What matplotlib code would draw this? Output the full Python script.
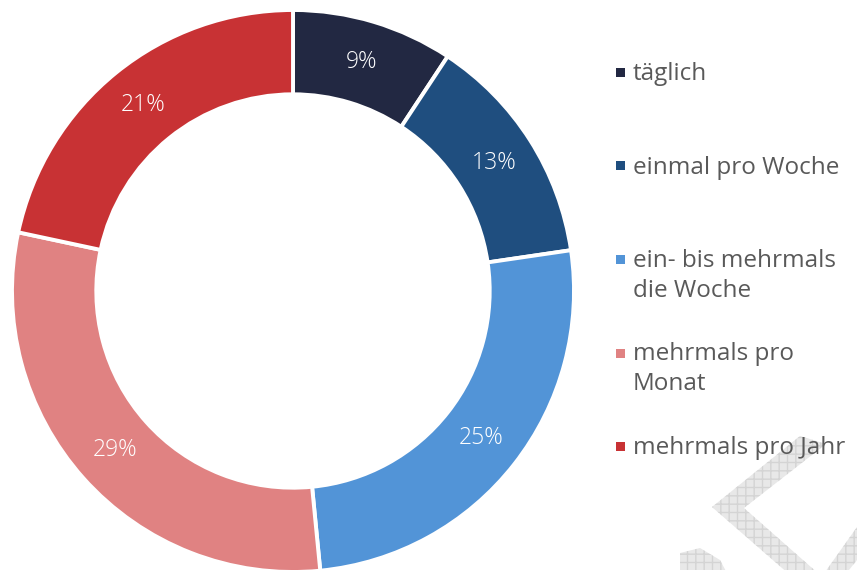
import numpy as np
import matplotlib.pyplot as plt
from matplotlib.patches import Polygon, Rectangle

CATEGORIES = ["täglich", "einmal pro Woche", "ein- bis mehrmals\ndie Woche",
              "mehrmals pro\nMonat", "mehrmals pro Jahr"]
SHARES = [9, 13, 25, 29, 21]
COLORS = ["#222842", "#1f4e7f", "#5294d7", "#e08282", "#c83234"]

W, H = 857, 570
plt.rcParams["font.family"] = ["Open Sans", "DejaVu Sans"]

fig = plt.figure(figsize=(W / 100, H / 100), dpi=100)
fig.patch.set_facecolor("white")

# watermark in the lower right corner
wm = fig.add_axes([0, 0, 1, 1], zorder=0)
wm.set_xlim(0, W)
wm.set_ylim(H, 0)
wm.axis("off")
for pts in [
    [(800, 436), (826, 444), (744, 508), (820, 575), (790, 575), (712, 507)],
    [(823, 575), (857, 527), (857, 560), (845, 575)],
    [(680, 553), (700, 548), (720, 560), (728, 575), (680, 575)],
]:
    wm.add_patch(Polygon(pts, closed=True, facecolor="#e8e8e8",
                         edgecolor="#d4d4d4", hatch="++", linewidth=0))

# donut
ax = fig.add_axes([12 / W, -2 / H, 562 / W, 562 / H], zorder=1)
ax.pie(SHARES, colors=COLORS, startangle=90, counterclock=False, radius=1,
       wedgeprops=dict(width=0.3, edgecolor="white", linewidth=2.8))
ax.set_xlim(-1, 1)
ax.set_ylim(-1, 1)
ax.set_aspect("equal")

total = sum(SHARES)
cum = 0
for v in SHARES:
    mid = 90 - (cum + v / 2) / total * 360
    cum += v
    r = 0.85
    ax.text(r * np.cos(np.radians(mid)), r * np.sin(np.radians(mid)), f"{v}%",
            ha="center", va="center", color="white", fontsize=16.5,
            fontweight="light")

# legend
for i, (lab, col) in enumerate(zip(CATEGORIES, COLORS)):
    y = 73 + i * 93.5
    fig.patches.append(Rectangle((616 / W, 1 - (y + 4) / H), 9 / W, 9 / H,
                                 transform=fig.transFigure, facecolor=col,
                                 edgecolor="none", zorder=3))
    fig.text(633 / W, 1 - (y - 11) / H, lab, ha="left", va="top",
             color="#595959", fontsize=17.5, linespacing=1.33, zorder=4)

fig.savefig("out.png", dpi=100, facecolor="white")
